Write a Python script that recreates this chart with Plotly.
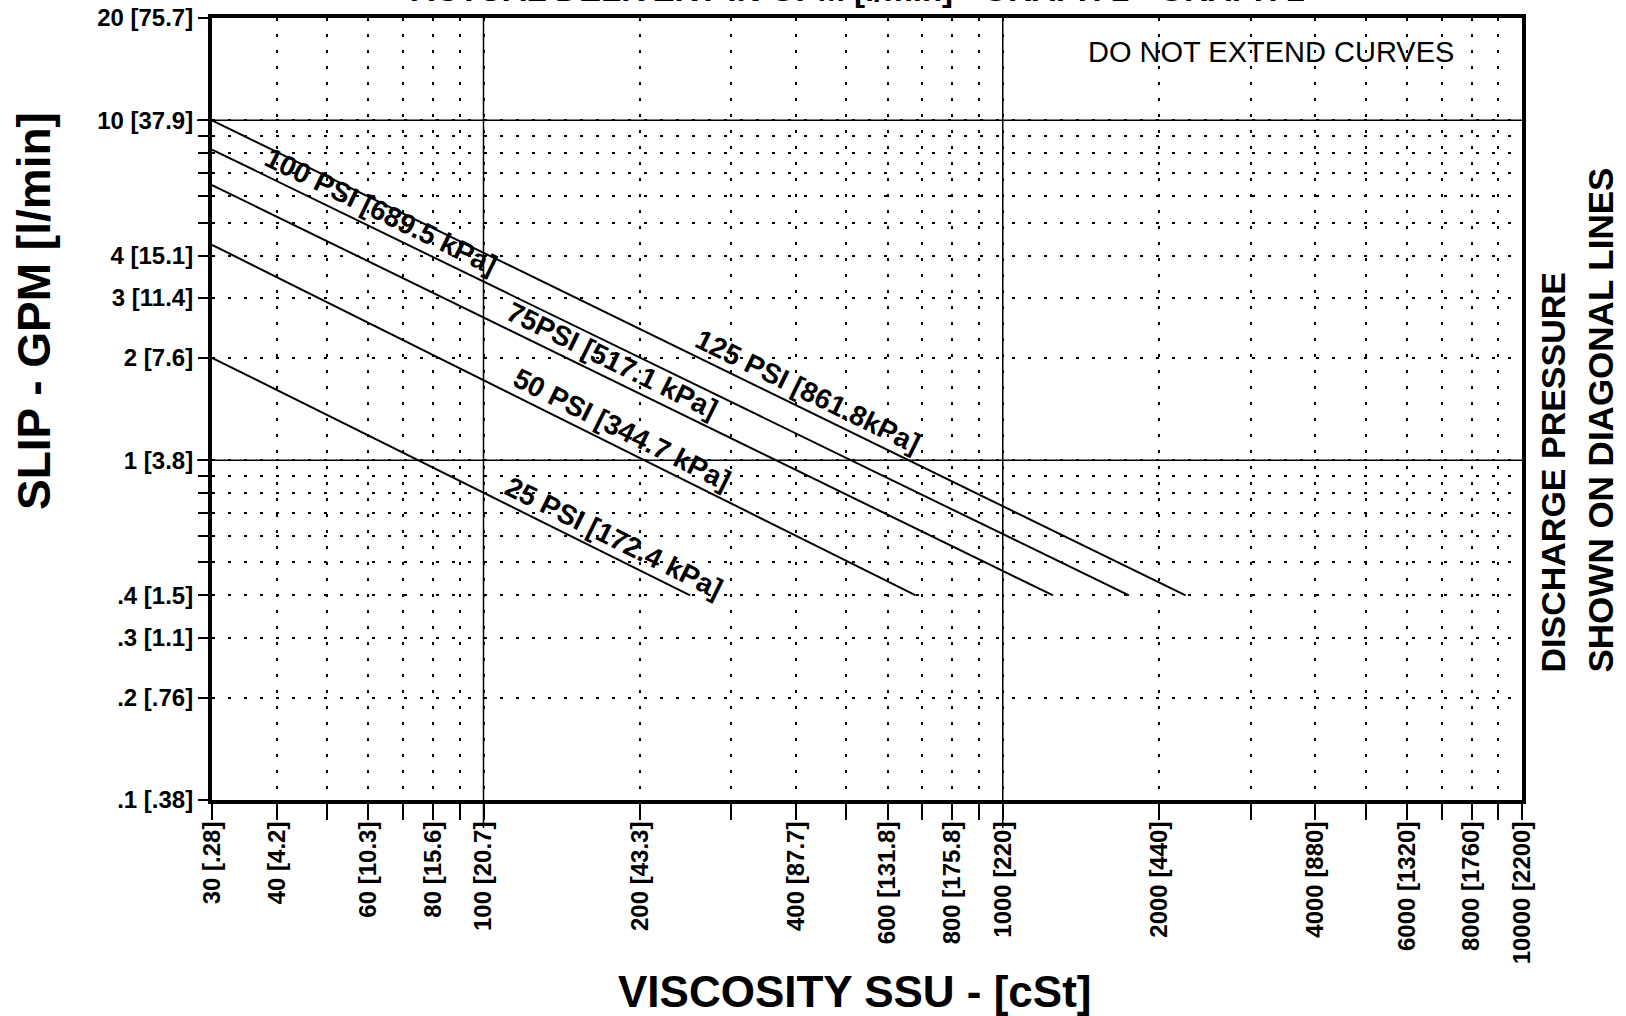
import math
import plotly.graph_objects as go

# ---------------- data ----------------
pressure_labels = ["25 PSI [172.4 kPa]", "50 PSI [344.7 kPa]", "75PSI [517.1 kPa]",
                   "100 PSI [689.5 kPa]", "125 PSI [861.8kPa]"]
visc_start = [30, 30, 30, 30, 30]
visc_end = [250, 680, 1250, 1750, 2250]
slip_start = [2.0, 4.3, 6.45, 8.2, 10.0]
slip_end = [0.4, 0.4, 0.4, 0.4, 0.4]
label_visc = [178, 185, 177, 63.5, 422]

x_major = [30, 40, 60, 80, 100, 200, 400, 600, 800, 1000, 2000, 4000, 6000, 8000, 10000]
x_major_text = ["30 [.28]", "40 [4.2]", "60 [10.3]", "80 [15.6]", "100 [20.7]", "200 [43.3]",
                "400 [87.7]", "600 [131.8]", "800 [175.8]", "1000 [220]", "2000 [440]",
                "4000 [880]", "6000 [1320]", "8000 [1760]", "10000 [2200]"]
x_minor = [50, 70, 90, 300, 500, 700, 900, 3000, 5000, 7000, 9000]
y_major = [0.1, 0.2, 0.3, 0.4, 1, 2, 3, 4, 10, 20]
y_major_text = [".1 [.38]", ".2 [.76]", ".3 [1.1]", ".4 [1.5]", "1 [3.8]", "2 [7.6]",
                "3 [11.4]", "4 [15.1]", "10 [37.9]", "20 [75.7]"]
y_minor = [0.5, 0.6, 0.7, 0.8, 0.9, 5, 6, 7, 8, 9]
x_decades = [100, 1000]
y_decades = [1, 10]

FONT = "Liberation Sans, Arial, sans-serif"
W, H = 1626, 1016
ML, MR, MT, MB = 212, 104, 18, 216
PW, PH = W - ML - MR, H - MT - MB
X_RANGE = [math.log10(30), math.log10(10000)]
Y_RANGE = [math.log10(0.1), math.log10(20)]
DOT = "3px,13px"


def paper_x(px):
    return (px - ML) / PW


def paper_y(py):
    return (H - MB - py) / PH


fig = go.Figure()

for i in range(len(pressure_labels)):
    fig.add_trace(go.Scatter(
        x=[visc_start[i], visc_end[i]], y=[slip_start[i], slip_end[i]],
        mode="lines", line=dict(color="black", width=2),
        hoverinfo="skip", showlegend=False))

# pixel scale for text angle
px_x = PW / (X_RANGE[1] - X_RANGE[0])
px_y = PH / (Y_RANGE[1] - Y_RANGE[0])

annotations = []
for i, lab in enumerate(pressure_labels):
    lx0, lx1 = math.log10(visc_start[i]), math.log10(visc_end[i])
    ly0, ly1 = math.log10(slip_start[i]), math.log10(slip_end[i])
    slope = (ly1 - ly0) / (lx1 - lx0)
    lx = math.log10(label_visc[i])
    ly = ly0 + (lx - lx0) * slope
    ang = math.degrees(math.atan(-slope * px_y / px_x))
    annotations.append(dict(
        x=lx, y=ly, xref="x", yref="y", text=lab, showarrow=False,
        textangle=ang, yshift=20,
        font=dict(family=FONT, size=28, color="black", weight="bold")))

annotations += [
    dict(text="DO NOT EXTEND CURVES", x=paper_x(1271), y=paper_y(52), xref="paper", yref="paper",
         showarrow=False, xanchor="center", yanchor="middle",
         font=dict(family=FONT, size=29, color="black")),
    dict(text="VISCOSITY SSU - [cSt]", x=paper_x(855), y=paper_y(991), xref="paper", yref="paper",
         showarrow=False, xanchor="center", yanchor="middle",
         font=dict(family=FONT, size=44, color="black", weight="bold")),
    dict(text="SLIP - GPM [l/min]", x=paper_x(34), y=paper_y(311), xref="paper", yref="paper",
         showarrow=False, xanchor="center", yanchor="middle", textangle=-90,
         font=dict(family=FONT, size=46, color="black", weight="bold")),
    dict(text="DISCHARGE PRESSURE", x=paper_x(1552), y=paper_y(675), xref="paper", yref="paper",
         showarrow=False, xanchor="center", yanchor="bottom", textangle=-90,
         font=dict(family=FONT, size=34, color="black", weight="bold")),
    dict(text="SHOWN ON DIAGONAL LINES", x=paper_x(1600), y=paper_y(675), xref="paper",
         yref="paper", showarrow=False, xanchor="center", yanchor="bottom", textangle=-90,
         font=dict(family=FONT, size=35, color="black", weight="bold")),
    dict(text="ACTUAL DELIVERY IN GPM [l/min] - GRAPH 1 - GRAPH 2", x=paper_x(858),
         y=paper_y(10), xref="paper", yref="paper", showarrow=False,
         xanchor="center", yanchor="bottom",
         font=dict(family=FONT, size=33, color="black", weight="bold")),
]

shapes = []
for xv in x_decades:
    shapes.append(dict(type="line", xref="x", yref="paper", x0=xv, x1=xv, y0=paper_y(828), y1=1,
                       line=dict(color="black", width=1.5), layer="above"))
for yv in y_decades:
    shapes.append(dict(type="line", xref="paper", yref="y", x0=paper_x(197), x1=1, y0=yv, y1=yv,
                       line=dict(color="black", width=1.5), layer="above"))

tickfont = dict(family=FONT, size=24, color="black", weight="bold")

fig.update_layout(
    template="none",
    width=W, height=H,
    margin=dict(l=ML, r=MR, t=MT, b=MB, pad=0, autoexpand=False),
    paper_bgcolor="white", plot_bgcolor="white",
    showlegend=False,
    annotations=annotations, shapes=shapes,
    xaxis=dict(
        type="log", range=X_RANGE, tickmode="array", tickvals=x_major, ticktext=x_major_text,
        tickangle=-90, tickfont=tickfont, ticks="outside", ticklen=16, tickwidth=1.5,
        tickcolor="black", showline=True, linewidth=4, linecolor="black", mirror=True,
        showgrid=True, gridcolor="black", gridwidth=1.5, griddash=DOT, zeroline=False,
        automargin=False, ticklabelstandoff=-8,
        minor=dict(tickmode="array", tickvals=x_minor, ticks="outside", ticklen=16,
                   tickwidth=1.5, tickcolor="black", showgrid=True, gridcolor="black",
                   gridwidth=1.5, griddash=DOT)),
    yaxis=dict(
        type="log", range=Y_RANGE, tickmode="array", tickvals=y_major, ticktext=y_major_text,
        tickfont=tickfont, ticks="outside", ticklen=10, tickwidth=1.5,
        tickcolor="black", showline=True, linewidth=4, linecolor="black", mirror=True,
        showgrid=True, gridcolor="black", gridwidth=1.5, griddash=DOT, zeroline=False,
        automargin=False, ticklabelstandoff=0,
        minor=dict(tickmode="array", tickvals=y_minor, ticks="outside", ticklen=10,
                   tickwidth=1.5, tickcolor="black", showgrid=True, gridcolor="black",
                   gridwidth=1.5, griddash=DOT)),
)

fig.write_html("out.html", config={"displayModeBar": False},
               post_script="document.body.style.margin='0';document.body.style.overflow='hidden';")
